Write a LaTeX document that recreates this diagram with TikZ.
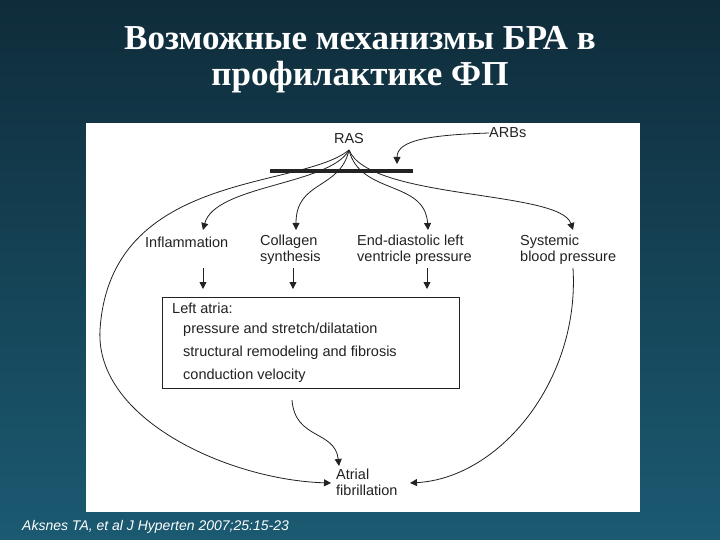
\documentclass[tikz,border=0pt]{standalone}
\usepackage{fontspec}
\setmainfont{Liberation Serif}
\newfontfamily\dsans{Liberation Sans}
\usetikzlibrary{arrows.meta}
\definecolor{bgtop}{HTML}{0F2C3A}
\definecolor{bgbot}{HTML}{1B5A72}
\definecolor{ink}{HTML}{222222}
\begin{document}
\begin{tikzpicture}[x=1pt,y=-1pt,
  lbl/.style={font=\dsans\fontsize{14.5}{16}\selectfont,text=ink,align=left,inner sep=0pt},
  con/.style={draw=ink,line width=0.8pt,-{Triangle[length=7pt,width=7pt]}},
  sharp/.style={draw=ink,line width=0.8pt}]
\useasboundingbox (0,0) rectangle (720,540);
\shade[top color=bgtop,bottom color=bgbot] (0,0) rectangle (720,540);
\fill[white] (86,123) rectangle (640,512);
\node[text=white,font=\bfseries\fontsize{35}{36}\selectfont,align=center] (title) at (360,60) {Возможные механизмы БРА в\\профилактике ФП};
\node[text=white,font=\dsans\itshape\fontsize{14}{16}\selectfont,anchor=west,inner sep=0pt] (cite) at (22,527) {Aksnes TA, et al J Hyperten 2007;25:15-23};
% nodes
\node[lbl] (ras) at (349,139) {RAS};
\node[lbl,anchor=west] (arbs) at (489,133) {ARBs};
\coordinate (rs) at (349,150);
\draw[line width=4pt,ink] (270,171) -- (413,171);
\node[lbl,anchor=west] (infl) at (145,242) {Inflammation};
\node[lbl,anchor=north west] (coll) at (260,235) {Collagen\\synthesis};
\node[lbl,anchor=north west] (edlv) at (357,235) {End-diastolic left\\ventricle pressure};
\node[lbl,anchor=north west] (sbp) at (520,235) {Systemic\\blood pressure};
\node[draw=ink,line width=0.8pt,anchor=north west,minimum width=297pt,minimum height=91pt,inner sep=0pt] (box) at (162,297) {};
\node[lbl,anchor=west] (la) at (172,308) {Left atria:};
\node[lbl,anchor=west] (l1) at (183,330) {pressure and stretch/dilatation};
\node[lbl,anchor=west] (l2) at (183,353) {structural remodeling and fibrosis};
\node[lbl,anchor=west] (l3) at (183,376) {conduction velocity};
\node[lbl,anchor=north west] (af) at (336,469) {Atrial\\fibrillation};
% connectors
\draw[con] (arbs.west) .. controls (430,135) and (397,140) .. (397,164);
\draw[con] (rs) .. controls (330,185) and (215,185) .. (203,230);
\draw[con] (rs) .. controls (340,190) and (296,180) .. (296,230);
\draw[con] (rs) .. controls (360,195) and (425,180) .. (428,230);
\draw[con] (rs) .. controls (370,200) and (560,190) .. (573,230);
\draw[con] (rs) .. controls (300,190) and (110,170) .. (100,330) .. controls (95,420) and (230,480) .. (331,483);
\draw[con] (203,268) -- (203,289);
\draw[con] (293,268) -- (293,289);
\draw[con] (427,268) -- (427,289);
\draw[con] (292,400) .. controls (295,440) and (335,430) .. (339,466);
\draw[con] (573,268) .. controls (580,380) and (500,478) .. (410,483);
\end{tikzpicture}
\end{document}
